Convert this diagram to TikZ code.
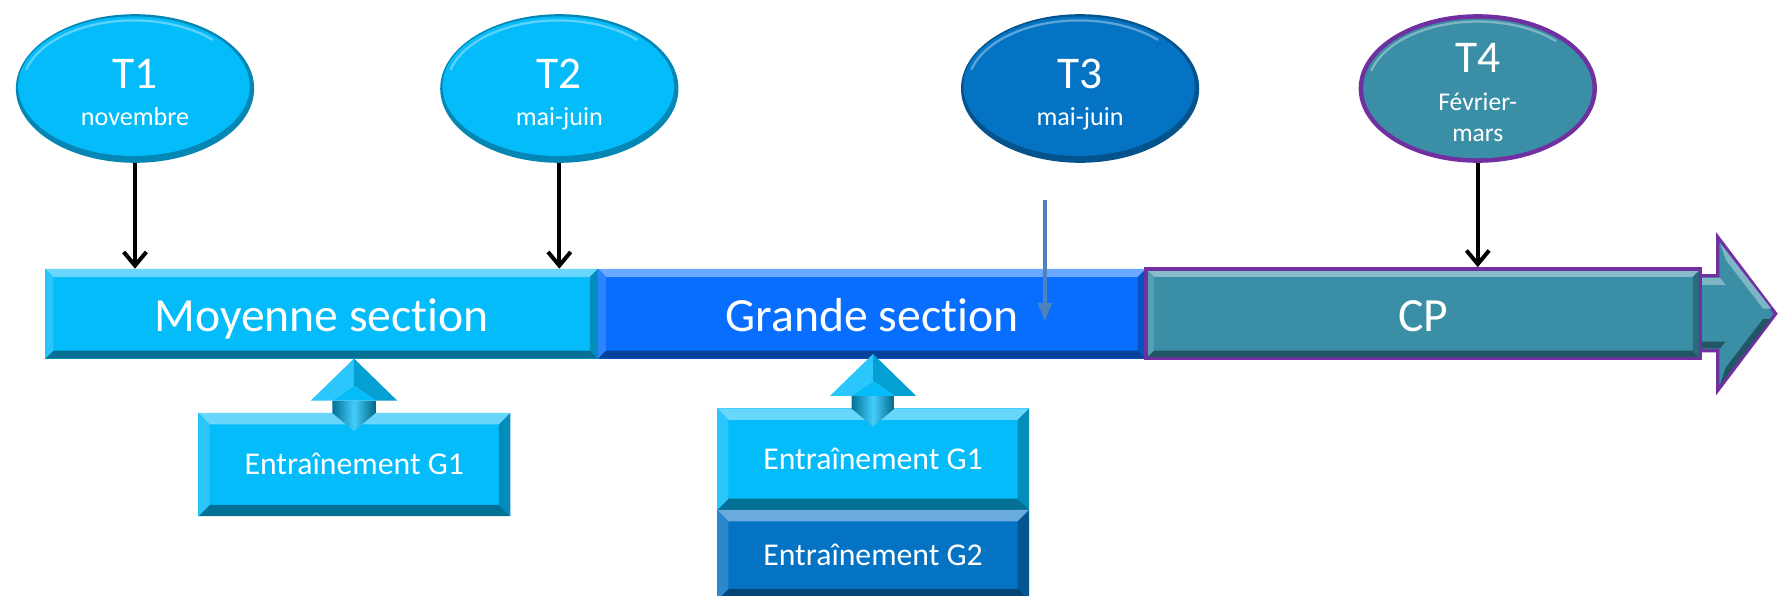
\documentclass[tikz,border=0pt]{standalone}
\usepackage{fontspec}
\setmainfont{Carlito}[Ligatures={NoCommon,NoContextual}]
\usetikzlibrary{arrows.meta,shapes.geometric}
\definecolor{cyanA}{RGB}{5,188,250}
\definecolor{blueB}{RGB}{8,110,255}
\definecolor{tealC}{RGB}{58,143,166}
\definecolor{purpC}{RGB}{112,48,160}
\definecolor{blueD}{RGB}{5,115,196}
\definecolor{steelE}{RGB}{79,129,189}
\tikzset{
  bevw/.store in=\bevw, bevw=7pt,
  bevelbox/.style={rectangle, inner sep=0pt, fill=#1, text=white,
    path picture={
      \coordinate (pA) at (path picture bounding box.north west);
      \coordinate (pB) at (path picture bounding box.north east);
      \coordinate (pC) at (path picture bounding box.south east);
      \coordinate (pD) at (path picture bounding box.south west);
      \fill[#1!60!white] (pA) -- (pB) -- ([shift={(-\bevw,-\bevw)}]pB) -- ([shift={(\bevw,-\bevw)}]pA) -- cycle;
      \fill[#1!60!black] (pD) -- (pC) -- ([shift={(-\bevw,\bevw)}]pC) -- ([shift={(\bevw,\bevw)}]pD) -- cycle;
      \fill[#1!85!white] (pA) -- ([shift={(\bevw,-\bevw)}]pA) -- ([shift={(\bevw,\bevw)}]pD) -- (pD) -- cycle;
      \fill[#1!75!black] (pB) -- ([shift={(-\bevw,-\bevw)}]pB) -- ([shift={(-\bevw,\bevw)}]pC) -- (pC) -- cycle;
    }},
  barbox/.style={bevelbox=#1, minimum width=485pt, minimum height=79pt,
    text height=31pt, text depth=0pt, font=\fontsize{42}{42}\selectfont},
  trainbox/.style={bevelbox=#1, bevw=10pt, minimum width=275pt,
    text height=18pt, text depth=0pt, font=\fontsize{28}{28}\selectfont},
  ellA/.style={ellipse, inner sep=0pt, minimum width=210pt, minimum height=131pt, fill=#1!72!black,
    path picture={
      \fill[#1] ([shift={(-1pt,2pt)}]path picture bounding box.center) ellipse [x radius=102pt, y radius=61.5pt];
      \draw[#1!65!white, line width=2pt, line cap=round] ([shift={(-1pt,2pt)}]path picture bounding box.center) ++(165:98pt and 58pt) arc[start angle=165, end angle=45, x radius=98pt, y radius=58pt];
    }},
  ellP/.style={ellipse, inner sep=0pt, minimum width=210pt, minimum height=131pt, fill=purpC,
    path picture={
      \fill[#1] (path picture bounding box.center) ellipse [x radius=101pt, y radius=61.5pt];
      \draw[#1!65!white, line width=2pt, line cap=round] ([yshift=1pt]path picture bounding box.center) ++(165:97pt and 58pt) arc[start angle=165, end angle=45, x radius=97pt, y radius=58pt];
    }},
  bigT/.style={anchor=base, inner sep=0pt, text=white, font=\fontsize{40}{40}\selectfont},
  smallT/.style={anchor=base, inner sep=0pt, text=white, font=\fontsize{23}{23}\selectfont},
  blackarrow/.style={line width=3.5pt, -{Straight Barb[length=12pt,width=20pt]}},
  bluearrow/.style={steelE, line width=3pt, -{Triangle[length=16pt,width=12pt]}},
}
\newcommand{\upblockarrow}{%
  \shade[left color=cyanA!60!black, right color=cyanA!55!black, middle color=cyanA!75!white]
    (-19,37) -- (19,37) -- (19,48) -- (0,64) -- (-19,48) -- cycle;
  \fill[cyanA!85!white] (0,0) -- (-38,37) -- (-19,37) -- (0,24) -- cycle;
  \fill[cyanA!85!black] (0,0) -- (38,37) -- (19,37) -- (0,24) -- cycle;
  \fill[cyanA] (-19,37) -- (0,24) -- (19,37) -- cycle;
}
\begin{document}
\begin{tikzpicture}[x=1pt,y=-1pt]
\useasboundingbox (0,0) rectangle (1568,525);
\fill[white] (0,0) rectangle (1568,525);

% ellipses
\node[ellA=cyanA] (t1) at (119,78) {};
\node[ellA=cyanA] (t2) at (493,78) {};
\node[ellA=blueD] (t3) at (952,78) {};
\node[ellP=tealC] (t4) at (1302.5,78) {};
\node[bigT] (t1a) at (119,77.6) {T1};
\node[smallT] (t1b) at (119,111) {novembre};
\node[bigT] (t2a) at (493,77.6) {T2};
\node[smallT] (t2b) at (493,111) {mai-juin};
\node[bigT] (t3a) at (952,77.6) {T3};
\node[smallT] (t3b) at (952,111) {mai-juin};
\node[bigT] (t4a) at (1302.5,64) {T4};
\node[smallT, font=\fontsize{22.5}{22.5}\selectfont] (t4b) at (1302.5,97) {Février-};
\node[smallT, font=\fontsize{22.5}{22.5}\selectfont] (t4c) at (1302.5,125) {mars};

% big end arrow
\draw[purpC, line width=3pt, fill=tealC, line join=miter] (1490,243) -- (1514,243) -- (1514,209) -- (1565,276.5) -- (1514,344) -- (1514,309) -- (1490,309) -- cycle;
\fill[tealC!65!white] (1490,245) -- (1516,245) -- (1521,251) -- (1490,251) -- cycle;
\fill[tealC!65!white] (1516,214) -- (1561,272) -- (1554,272) -- (1521,229) -- cycle;
\fill[tealC!60!black] (1561,281) -- (1516,339) -- (1521,324) -- (1554,281) -- cycle;
\fill[tealC!60!black] (1490,307) -- (1516,307) -- (1521,301) -- (1490,301) -- cycle;

% timeline bar
\node[barbox=cyanA, minimum width=487pt] (ms) at (283.5,276.5) {Moyenne section};
\node[barbox=blueB, minimum width=483pt] (gs) at (768.5,276.5) {Grande section};
\node[barbox=tealC, minimum width=489pt, draw=purpC, line width=3pt] (cp) at (1254.5,276.5) {CP};

% training boxes
\node[trainbox=cyanA, minimum height=91pt] (msg1) at (312.25,409.5) {Entraînement G1};
\node[trainbox=cyanA, minimum height=89.5pt] (gsg1) at (769.5,404.75) {Entraînement G1};
\node[trainbox=blueD, minimum height=79.5pt] (gsg2) at (769.5,489.25) {Entraînement G2};

% up block arrows
\begin{scope}[shift={(312,316)}]
\upblockarrow
\end{scope}
\begin{scope}[shift={(769.5,312)}]
\upblockarrow
\end{scope}

% arrows
\draw[blackarrow] (t1.south) -- (t1.south |- ms.north);
\draw[blackarrow] (t2.south) -- (t2.south |- ms.north);
\draw[blackarrow] (t4.south) -- (t4.south |- cp.north);
\coordinate (t3s) at (921,176);
\coordinate (t3e) at (921,283);
\draw[bluearrow] (t3s) -- (t3e);
\end{tikzpicture}
\end{document}
